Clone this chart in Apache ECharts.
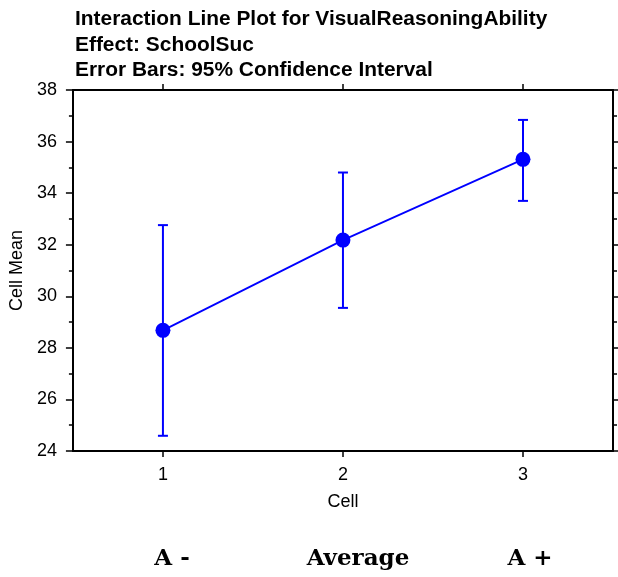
<!DOCTYPE html>
<html>
<head>
<meta charset="utf-8">
<script src="https://cdn.jsdelivr.net/npm/echarts@6/dist/echarts.min.js"></script>
<style>
  html, body { margin: 0; padding: 0; background: #fff; }
  #chart { width: 618px; height: 577px; }
</style>
</head>
<body>
<div id="chart"></div>
<script>
// Cells on the x axis and their group names shown underneath
const cells = ['1', '2', '3'];
const groupLabels = ['A -', 'Average', 'A +'];

// Heading lines
const headingLines = [
  'Interaction Line Plot for VisualReasoningAbility',
  'Effect: SchoolSuc',
  'Error Bars: 95% Confidence Interval'
];

// Cell means and 95% confidence limits
const cellMeans = [28.68, 32.18, 35.31];
const ciLower = [24.59, 29.55, 33.70];
const ciUpper = [32.76, 34.80, 36.84];

// Y axis tick range
const yMin = 24;
const yMax = 38;
const yStep = 2;

const BLUE = '#0000ff';
const SANS = 'Liberation Sans, Arial, sans-serif';

const chart = echarts.init(document.getElementById('chart'), null, { renderer: 'canvas' });

const errorData = cells.map((c, i) => [i, ciLower[i], ciUpper[i]]);

const axisLine = { show: true, lineStyle: { color: '#000', width: 2 } };
const tickStyle = { color: '#000', width: 1.5 };

const option = {
  animation: false,
  backgroundColor: '#fff',
  grid: { left: 72, right: 5, top: 90, bottom: 126, containLabel: false },
  xAxis: [
    {
      type: 'category',
      data: cells,
      position: 'bottom',
      boundaryGap: true,
      name: 'Cell',
      nameLocation: 'middle',
      nameGap: 42,
      nameTextStyle: { fontFamily: SANS, fontSize: 18, color: '#000' },
      axisLine: axisLine,
      axisTick: { show: true, alignWithLabel: true, length: 6, lineStyle: tickStyle },
      axisLabel: { fontFamily: SANS, fontSize: 18, color: '#000', margin: 15 },
      splitLine: { show: false }
    },
    {
      type: 'category',
      data: cells,
      position: 'top',
      boundaryGap: true,
      axisLine: axisLine,
      axisTick: { show: true, alignWithLabel: true, length: 6, lineStyle: tickStyle },
      axisLabel: { show: false },
      splitLine: { show: false }
    }
  ],
  yAxis: [
    {
      type: 'value',
      min: yMin,
      max: yMax,
      interval: yStep,
      position: 'left',
      name: 'Cell Mean',
      nameLocation: 'middle',
      nameGap: 44,
      nameTextStyle: { fontFamily: SANS, fontSize: 18, color: '#000' },
      axisLine: axisLine,
      axisTick: { show: true, length: 7, lineStyle: tickStyle },
      minorTick: { show: true, splitNumber: 2, length: 4, lineStyle: tickStyle },
      axisLabel: { fontFamily: SANS, fontSize: 18, color: '#000', margin: 16 },
      splitLine: { show: false },
      minorSplitLine: { show: false }
    },
    {
      type: 'value',
      min: yMin,
      max: yMax,
      interval: yStep,
      position: 'right',
      axisLine: axisLine,
      axisTick: { show: true, length: 7, lineStyle: tickStyle },
      minorTick: { show: true, splitNumber: 2, length: 4, lineStyle: tickStyle },
      axisLabel: { show: false },
      splitLine: { show: false }
    }
  ],
  series: [
    {
      type: 'custom',
      name: 'CI',
      xAxisIndex: 0,
      yAxisIndex: 0,
      data: errorData,
      z: 2,
      renderItem: function (params, api) {
        const x = api.value(0);
        const lo = api.coord([x, api.value(1)]);
        const hi = api.coord([x, api.value(2)]);
        const half = 5;
        const style = { stroke: BLUE, lineWidth: 2, fill: null };
        return {
          type: 'group',
          children: [
            { type: 'line', shape: { x1: lo[0], y1: lo[1], x2: hi[0], y2: hi[1] }, style: style },
            { type: 'line', shape: { x1: lo[0] - half, y1: lo[1], x2: lo[0] + half, y2: lo[1] }, style: style },
            { type: 'line', shape: { x1: hi[0] - half, y1: hi[1], x2: hi[0] + half, y2: hi[1] }, style: style }
          ]
        };
      }
    },
    {
      type: 'line',
      name: 'Mean',
      xAxisIndex: 0,
      yAxisIndex: 0,
      data: cellMeans,
      z: 3,
      symbol: 'circle',
      symbolSize: 15,
      showSymbol: true,
      lineStyle: { color: BLUE, width: 1.8 },
      itemStyle: { color: BLUE, borderWidth: 0 },
      emphasis: { disabled: true }
    }
  ]
};

chart.setOption(option);

// Heading at the top left and group names in a serif face at the bottom
const headingY = [19, 45, 70];
const groupX = [172, 358, 530];
const headingItems = headingLines.map((t, i) => ({
  type: 'text',
  x: 75,
  y: headingY[i],
  style: {
    text: t,
    font: 'bold 20px "Liberation Sans", Arial, sans-serif',
    fill: '#000',
    align: 'left',
    verticalAlign: 'middle'
  },
  scaleX: 1.045
}));
const groupItems = groupLabels.map((t, i) => ({
  type: 'text',
  x: groupX[i],
  y: 559,
  style: {
    text: t,
    font: 'bold 23px "DejaVu Serif", serif',
    fill: '#000',
    align: 'center',
    verticalAlign: 'middle'
  }
}));
chart.setOption({ graphic: headingItems.concat(groupItems) });
</script>
</body>
</html>
